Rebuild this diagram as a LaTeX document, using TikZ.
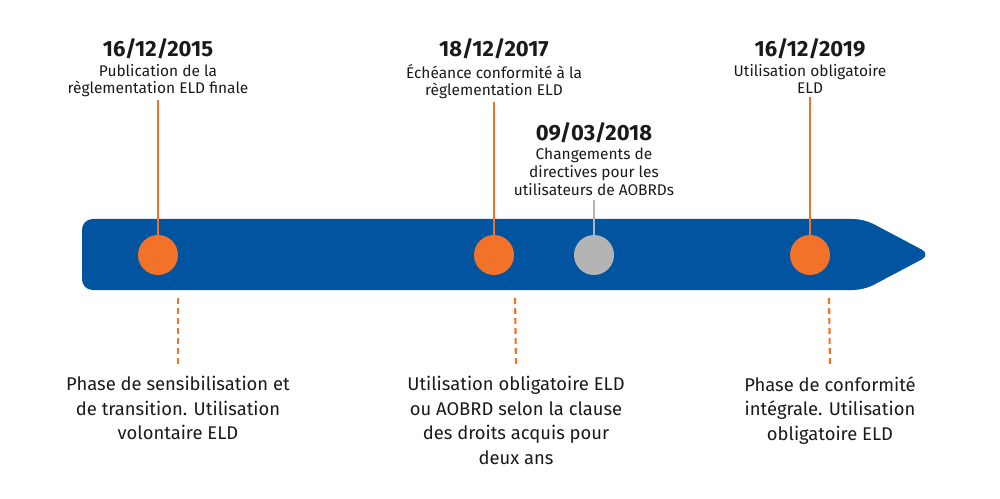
\documentclass[tikz,border=0pt]{standalone}
\usepackage{fontspec}
\setmainfont{Fira Sans}
\usetikzlibrary{positioning}
\definecolor{barblue}{RGB}{0,84,160}
\definecolor{dotorange}{RGB}{243,114,42}
\definecolor{dotgrey}{RGB}{180,180,180}
\definecolor{txtdark}{RGB}{26,26,26}

\begin{document}
\begin{tikzpicture}[x=0.75pt, y=-0.75pt,
  dot/.style={circle, fill=dotorange, minimum size=30pt, inner sep=0pt},
  date/.style={anchor=base, inner sep=0pt, text=txtdark, font=\bfseries\fontsize{16.5}{18}\selectfont},
  desc/.style={align=center, inner sep=0pt, text=txtdark, font=\fontsize{11.6}{13.4}\selectfont},
  phase/.style={align=center, anchor=north, inner sep=0pt, text=txtdark, font=\fontsize{13.8}{18.4}\selectfont},
  stem/.style={draw=dotorange, line width=2pt},
  dashline/.style={draw=dotorange, line width=1.6pt, dash pattern=on 4.5pt off 3pt}]
\useasboundingbox (0,0) rectangle (1000,499);
% bande de la frise
\fill[barblue, rounded corners=8pt] (82,219) -- (864,219) -- (931,254.5) -- (864,290) -- (82,290) -- cycle;
% jalons
\node[dot] (c15) at (158,255) {};
\node[dot] (c17) at (494,255) {};
\node[dot, fill=dotgrey] (c18) at (594,255) {};
\node[dot] (c19) at (810,255) {};
% dates et intitules
\node[date] (d15) at (158,57) {16/12/2015};
\node[desc, below=3pt of d15] (t15) {Publication de la\\règlementation ELD finale};
\node[date] (d17) at (494,57) {18/12/2017};
\node[desc, below=3pt of d17] (t17) {Échéance conformité à la\\règlementation ELD};
\node[date] (d18) at (594,141) {09/03/2018};
\node[desc, below=3pt of d18] (t18) {Changements de\\directives pour les\\utilisateurs de AOBRDs};
\node[date] (d19) at (810,57) {16/12/2019};
\node[desc, below=3pt of d19] (t19) {Utilisation obligatoire\\ELD};
% traits verticaux
\draw[stem] ([yshift=-2pt]t15.south) -- (c15.north);
\draw[stem] ([yshift=-2pt]t17.south) -- (c17.north);
\draw[stem, draw=dotgrey] ([yshift=-3pt]t18.south) -- (c18.north);
\draw[stem] ([yshift=-2pt]t19.south) -- (c19.north);
% phases
\node[phase] (p15) at (178,376) {Phase de sensibilisation et\\de transition. Utilisation\\volontaire ELD};
\node[phase] (p17) at (516,376) {Utilisation obligatoire ELD\\ou AOBRD selon la clause\\des droits acquis pour\\deux ans};
\node[phase] (p19) at (830,376) {Phase de conformité\\intégrale. Utilisation\\obligatoire ELD};
\coordinate (k15) at (178,298);
\coordinate (k17) at (515,298);
\coordinate (k19) at (829,298);
\draw[dashline] (k15) -- ([yshift=7.5pt]p15.north);
\draw[dashline] (k17) -- ([yshift=7.5pt]p17.north);
\draw[dashline] (k19) -- ([yshift=7.5pt]p19.north);
\end{tikzpicture}
\end{document}
